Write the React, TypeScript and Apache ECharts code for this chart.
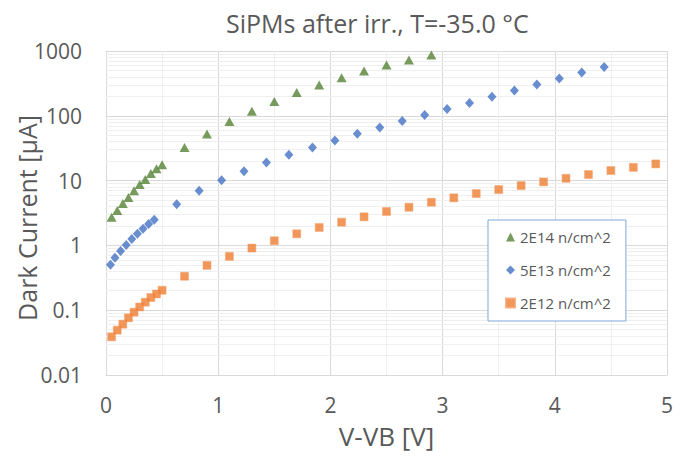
import React, { useEffect, useRef } from "react";
import * as echarts from "echarts";

const seriesNames = ["2E14 n/cm^2", "5E13 n/cm^2", "2E12 n/cm^2"];

const greenX = [0.05, 0.1, 0.15, 0.2, 0.25, 0.3, 0.35, 0.4, 0.45, 0.5, 0.7, 0.9, 1.1, 1.3, 1.5, 1.7, 1.9, 2.1, 2.3, 2.5, 2.7, 2.9];
const greenY = [2.72, 3.45, 4.43, 5.47, 7.0, 8.7, 10.4, 12.9, 15.3, 17.6, 32.5, 52.3, 81.7, 118, 166, 228, 300, 388, 492, 609, 727, 868];

const blueX = [0.04, 0.08, 0.13, 0.18, 0.23, 0.28, 0.33, 0.38, 0.43, 0.63, 0.83, 1.03, 1.23, 1.43, 1.63, 1.84, 2.04, 2.24, 2.44, 2.64, 2.84, 3.04, 3.24, 3.44, 3.64, 3.84, 4.04, 4.24, 4.44];
const blueY = [0.505, 0.647, 0.817, 1.01, 1.25, 1.51, 1.81, 2.13, 2.49, 4.32, 6.95, 10.1, 13.9, 19.1, 25.1, 32.5, 41.7, 52.9, 66.1, 82.9, 102.5, 127, 157, 196, 245, 303, 375, 464, 568];

const orangeX = [0.05, 0.1, 0.15, 0.2, 0.25, 0.3, 0.35, 0.4, 0.45, 0.5, 0.7, 0.9, 1.1, 1.3, 1.5, 1.7, 1.9, 2.1, 2.3, 2.5, 2.7, 2.9, 3.1, 3.3, 3.5, 3.7, 3.9, 4.1, 4.3, 4.5, 4.7, 4.9];
const orangeY = [0.0388, 0.0492, 0.0609, 0.0762, 0.0932, 0.112, 0.133, 0.157, 0.178, 0.203, 0.334, 0.492, 0.677, 0.909, 1.18, 1.51, 1.89, 2.28, 2.76, 3.34, 3.88, 4.64, 5.42, 6.31, 7.27, 8.38, 9.55, 10.85, 12.4, 14.3, 16.0, 18.1];

const yTickLabels = ["0.01", "0.1", "1", "10", "100", "1000"];
const xTickLabels = ["0", "1", "2", "3", "4", "5"];
const decades = [0.01, 0.1, 1, 10, 100];
const minorMultipliers = [2, 3, 4, 5, 6, 7, 8, 9];

const FONT = "Open Sans";
const TEXT = "#595959";

function zip(xs: number[], ys: number[]) {
  return xs.map((x, i) => [x, ys[i]]);
}

export default function App() {
  const ref = useRef<HTMLDivElement>(null);
  useEffect(() => {
    if (!ref.current) return;
    const chart = echarts.init(ref.current, undefined, { renderer: "svg" });
    const minorY: any[] = [];
    decades.forEach((d) => minorMultipliers.forEach((m) => minorY.push({ yAxis: +(d * m).toPrecision(3) })));
    chart.setOption({
      animation: false,
      backgroundColor: "#ffffff",
      textStyle: { fontFamily: FONT },
      title: {
        text: "SiPMs after irr., T=-35.0 \u00B0C",
        left: 221,
        top: 5,
        textStyle: { fontFamily: FONT, fontSize: 25, fontWeight: "normal", color: TEXT },
      },
      grid: { left: 106, right: 16, top: 51, bottom: 87, containLabel: false, outerBoundsMode: "none" },
      legend: {
        orient: "vertical",
        left: 488,
        top: 220,
        padding: [8, 15, 9, 17],
        itemGap: 15,
        itemWidth: 9,
        itemHeight: 9,
        borderColor: "#7fa7d4",
        borderWidth: 1,
        backgroundColor: "#ffffff",
        textStyle: { fontFamily: FONT, fontSize: 15, color: TEXT, lineHeight: 18 },
        data: [
          { name: seriesNames[0], icon: "triangle" },
          { name: seriesNames[1], icon: "diamond" },
          { name: seriesNames[2], icon: "rect" },
        ],
      },
      xAxis: {
        type: "value",
        min: 0,
        max: 5,
        interval: 1,
        name: "V-VB [V]",
        nameLocation: "middle",
        nameGap: 48,
        nameMoveOverlap: false,
        nameTextStyle: { fontFamily: FONT, fontSize: 26, color: TEXT },
        axisLine: { show: true, lineStyle: { color: "#d9d9d9" } },
        axisTick: { show: false },
        axisLabel: {
          fontFamily: FONT,
          fontSize: 21,
          color: TEXT,
          margin: 19,
          formatter: (v: number) => xTickLabels[Math.round(v)] ?? String(v),
        },
        splitLine: { show: true, lineStyle: { color: "#d9d9d9" } },
        minorTick: { show: false, splitNumber: 2 },
        minorSplitLine: { show: true, lineStyle: { color: "#efefef" } },
      },
      yAxis: {
        type: "log",
        logBase: 10,
        min: 0.01,
        max: 1000,
        name: "Dark Current [\u00B5A]",
        nameLocation: "middle",
        nameGap: 67,
        nameMoveOverlap: false,
        nameTextStyle: { fontFamily: FONT, fontSize: 25, color: TEXT, padding: [0, 10, 0, 0] },
        axisLine: { show: true, lineStyle: { color: "#d9d9d9" } },
        axisTick: { show: false },
        axisLabel: {
          fontFamily: FONT,
          fontSize: 21,
          color: TEXT,
          margin: 24,
          formatter: (v: number) => yTickLabels[Math.round(Math.log10(v)) + 2] ?? String(v),
        },
        splitLine: { show: true, lineStyle: { color: "#d9d9d9" } },
      },
      series: [
        {
          name: seriesNames[2],
          type: "scatter",
          symbol: "rect",
          symbolSize: 8,
          itemStyle: { color: "#ed7d31", borderColor: "#f4a36e", borderWidth: 0.6 },
          data: zip(orangeX, orangeY),
          z: 3,
          markLine: {
            silent: true,
            symbol: ["none", "none"],
            z: 1,
            label: { show: false },
            lineStyle: { color: "#efefef", width: 1, type: "solid" },
            emphasis: { disabled: true },
            data: minorY,
          },
        },
        {
          name: seriesNames[1],
          type: "scatter",
          symbol: "diamond",
          symbolSize: [9, 10],
          itemStyle: { color: "#4472c4" },
          data: zip(blueX, blueY),
          z: 3,
        },
        {
          name: seriesNames[0],
          type: "scatter",
          symbol: "triangle",
          symbolSize: [10, 9],
          itemStyle: { color: "#548235" },
          data: zip(greenX, greenY),
          z: 3,
        },
      ],
    });
    return () => chart.dispose();
  }, []);
  return <div ref={ref} style={{ position: "fixed", left: 0, top: 0, width: 683, height: 462 }} />;
}
